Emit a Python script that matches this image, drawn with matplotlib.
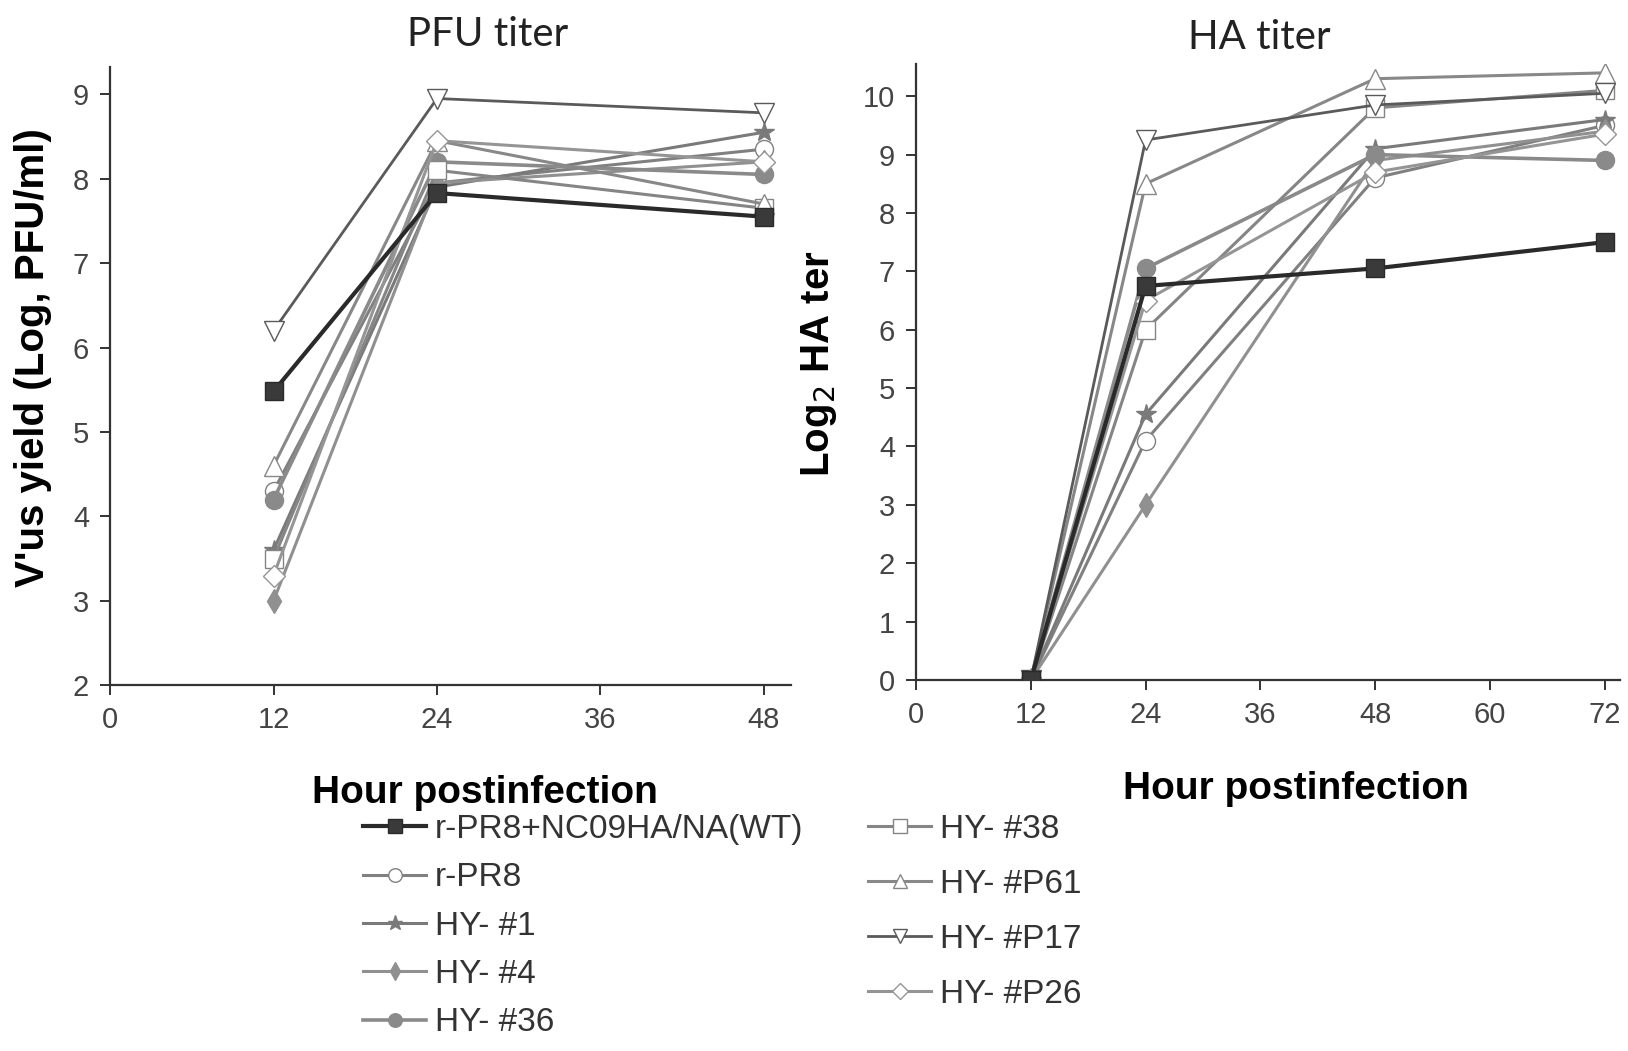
import matplotlib
matplotlib.use("Agg")
import matplotlib.pyplot as plt

# ---------------- data ----------------
series_names = ["r-PR8+NC09HA/NA(WT)", "r-PR8", "HY- #1", "HY- #4", "HY- #36",
                "HY- #38", "HY- #P61", "HY- #P17", "HY- #P26"]

pfu_hours = [12, 24, 48]
pfu_wt   = [5.48, 7.83, 7.55]
pfu_rpr8 = [4.30, 7.95, 8.35]
pfu_hy1  = [3.60, 7.90, 8.55]
pfu_hy4  = [3.00, 7.95, 8.20]
pfu_hy36 = [4.20, 8.20, 8.05]
pfu_hy38 = [3.50, 8.10, 7.65]
pfu_p61  = [4.60, 8.45, 7.70]
pfu_p17  = [6.20, 8.95, 8.78]
pfu_p26  = [3.30, 8.45, 8.20]

ha_hours = [12, 24, 48, 72]
ha_wt   = [0, 6.75, 7.05, 7.50]
ha_rpr8 = [0, 4.10, 8.60, 9.50]
ha_hy1  = [0, 4.55, 9.10, 9.60]
ha_hy4  = [0, 3.00, 8.90, 9.40]
ha_hy36 = [0, 7.05, 9.00, 8.90]
ha_hy38 = [0, 6.00, 9.80, 10.10]
ha_p61  = [0, 8.50, 10.30, 10.40]
ha_p17  = [0, 9.25, 9.85, 10.05]
ha_p26  = [0, 6.50, 8.70, 9.35]

pfu_series = [pfu_wt, pfu_rpr8, pfu_hy1, pfu_hy4, pfu_hy36, pfu_hy38, pfu_p61, pfu_p17, pfu_p26]
ha_series = [ha_wt, ha_rpr8, ha_hy1, ha_hy4, ha_hy36, ha_hy38, ha_p61, ha_p17, ha_p26]

pfu_yticks = [2, 3, 4, 5, 6, 7, 8, 9]
pfu_xticks = [0, 12, 24, 36, 48]
ha_yticks = list(range(0, 11))
ha_xticks = [0, 12, 24, 36, 48, 60, 72]

# ---------------- styles ----------------
styles = [
    dict(color="#2a2a2a", lw=3.0, marker="s", ms=13, mfc="#3a3a3a", mec="#2a2a2a", zorder=5),
    dict(color="#808080", lw=2.2, marker="o", ms=13, mfc="white", mec="#808080"),
    dict(color="#7a7a7a", lw=2.2, marker="*", ms=15, mfc="#7a7a7a", mec="#7a7a7a"),
    dict(color="#909090", lw=2.2, marker="d", ms=12, mfc="#909090", mec="#909090"),
    dict(color="#8a8a8a", lw=2.6, marker="o", ms=13, mfc="#8a8a8a", mec="#8a8a8a"),
    dict(color="#858585", lw=2.2, marker="s", ms=13, mfc="white", mec="#858585"),
    dict(color="#888888", lw=2.2, marker="^", ms=14, mfc="white", mec="#888888"),
    dict(color="#5a5a5a", lw=2.0, marker="v", ms=14, mfc="white", mec="#5a5a5a"),
    dict(color="#959595", lw=2.2, marker="D", ms=11, mfc="white", mec="#959595"),
]

plt.rcParams["font.family"] = ["Liberation Sans", "DejaVu Sans"]

fig = plt.figure(figsize=(16.28, 10.51), dpi=100)
fig.patch.set_facecolor("white")

ax1 = fig.add_axes([0.0676, 0.348, 0.4184, 0.588])
ax2 = fig.add_axes([0.5627, 0.353, 0.4323, 0.586])

lines = []
for vals, name, st in zip(pfu_series, series_names, styles):
    ln, = ax1.plot(pfu_hours, vals, label=name, **st)
    lines.append(ln)
for vals, name, st in zip(ha_series, series_names, styles):
    ax2.plot(ha_hours, vals, label=name, **st)

def style_axis(ax):
    for s in ["top", "right"]:
        ax.spines[s].set_visible(False)
    for s in ["left", "bottom"]:
        ax.spines[s].set_color("#333333")
        ax.spines[s].set_linewidth(1.6)
    ax.tick_params(axis="both", direction="out", length=7, width=1.4,
                   colors="#333333", labelsize=21, labelcolor="#444444", pad=8)

title_font = ["Lato", "DejaVu Sans"]

ax1.set_xlim(0, 50)
ax1.set_ylim(2, 9.32)
ax1.set_xticks(pfu_xticks)
ax1.set_yticks(pfu_yticks)
style_axis(ax1)
ax1.text(0.555, 1.023, "PFU titer", transform=ax1.transAxes, ha="center", va="bottom",
         fontsize=29, family=title_font, color="#222222")
ax1.set_ylabel("V'us yield (Log, PFU/ml)", fontsize=29, fontweight="bold")
ax1.yaxis.set_label_coords(-0.085, 0.53)
ax1.set_xlabel("Hour postinfection", fontsize=28, fontweight="bold")
ax1.xaxis.set_label_coords(0.55, -0.145)

ax2.set_xlim(0, 73.6)
ax2.set_ylim(0, 10.55)
ax2.set_xticks(ha_xticks)
ax2.set_yticks(ha_yticks)
style_axis(ax2)
ax2.text(0.488, 1.013, "HA titer", transform=ax2.transAxes, ha="center", va="bottom",
         fontsize=29, family=title_font, color="#222222")
ax2.set_ylabel("Log$_2$ HA ter", fontsize=29, fontweight="bold")
ax2.yaxis.set_label_coords(-0.11, 0.513)
ax2.set_xlabel("Hour postinfection", fontsize=28, fontweight="bold")
ax2.xaxis.set_label_coords(0.54, -0.147)

leg_kw = dict(frameon=False, fontsize=24, handlelength=1.9, handletextpad=0.25,
              borderpad=0, borderaxespad=0, markerscale=0.75)
leg1 = fig.legend(handles=lines[:5], loc="upper left",
                  bbox_to_anchor=(363 / 1628, 1 - 814 / 1051), labelspacing=0.52, **leg_kw)
leg2 = fig.legend(handles=lines[5:], loc="upper left",
                  bbox_to_anchor=(868 / 1628, 1 - 814 / 1051), labelspacing=0.72, **leg_kw)
for leg in (leg1, leg2):
    for t in leg.get_texts():
        t.set_color("#333333")

fig.savefig("out.png", dpi=100, facecolor="white")
